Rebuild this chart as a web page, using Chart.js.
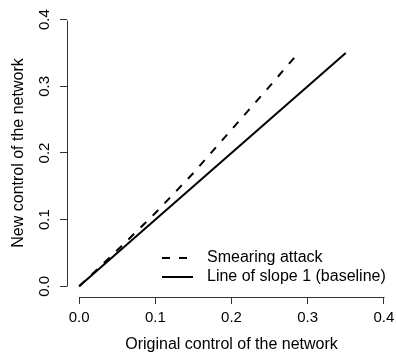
<!DOCTYPE html>
<html>
<head>
<meta charset="utf-8">
<script src="https://cdn.jsdelivr.net/npm/chart.js@4"></script>
<style>
  html, body { margin: 0; padding: 0; background: #fff; }
  #wrap { width: 396px; height: 352px; position: relative; }
</style>
</head>
<body>
<div id="wrap"><canvas id="c"></canvas></div>
<script>
// ---- data ----
const smearX = [0, 0.05, 0.10, 0.15, 0.20, 0.25, 0.29];
const smearY = [0, 0.054, 0.110, 0.170, 0.235, 0.300, 0.353];
const baseX = [0, 0.35];
const baseY = [0, 0.35];
const xTicks = [0, 0.1, 0.2, 0.3, 0.4];
const yTicks = [0, 0.1, 0.2, 0.3, 0.4];
const seriesLabels = ['Smearing attack', 'Line of slope 1 (baseline)'];
const xTitle = 'Original control of the network';
const yTitle = 'New control of the network';

const FONT = '"Liberation Sans", Arial, Helvetica, sans-serif';
Chart.defaults.font.family = FONT;
Chart.defaults.color = '#000';

const toPts = (xs, ys) => xs.map((x, i) => ({ x: x, y: ys[i] }));

// R-style axis lines spanning first..last tick
const rAxes = {
  id: 'rAxes',
  beforeDatasetsDraw(chart) {
    const { ctx, chartArea, scales } = chart;
    ctx.save();
    ctx.strokeStyle = '#333';
    ctx.lineWidth = 1;
    ctx.beginPath();
    const yb = Math.round(chartArea.bottom) + 0.5;
    ctx.moveTo(Math.round(scales.x.getPixelForValue(xTicks[0])) + 0.5, yb);
    ctx.lineTo(Math.round(scales.x.getPixelForValue(xTicks[xTicks.length - 1])) + 0.5, yb);
    const xl = Math.round(chartArea.left) + 0.5;
    ctx.moveTo(xl, Math.round(scales.y.getPixelForValue(yTicks[0])) + 0.5);
    ctx.lineTo(xl, Math.round(scales.y.getPixelForValue(yTicks[yTicks.length - 1])) + 0.5);
    ctx.stroke();
    ctx.restore();
  }
};

// legend inside plot area, bottom-right
const rLegend = {
  id: 'rLegend',
  afterDatasetsDraw(chart) {
    const ctx = chart.ctx;
    const L = { x: 162, y: 258, rowH: 19, lineLen: 31, textX: 207 };
    chart.data.datasets.forEach((ds, i) => {
      const y = L.y + i * L.rowH;
      ctx.save();
      ctx.strokeStyle = ds.borderColor;
      ctx.lineWidth = ds.borderWidth;
      ctx.setLineDash(ds.borderDash || []);
      ctx.beginPath();
      ctx.moveTo(L.x, y);
      ctx.lineTo(L.x + L.lineLen, y);
      ctx.stroke();
      ctx.restore();
      ctx.save();
      ctx.fillStyle = '#000';
      ctx.font = '16px ' + FONT;
      ctx.textBaseline = 'middle';
      ctx.textAlign = 'left';
      ctx.fillText(ds.label, L.textX, y);
      ctx.restore();
    });
  }
};

new Chart(document.getElementById('c'), {
  type: 'scatter',
  data: {
    datasets: [
      {
        label: seriesLabels[0],
        data: toPts(smearX, smearY),
        showLine: true,
        borderColor: '#000',
        borderWidth: 2,
        borderDash: [8, 9],
        pointRadius: 0,
        tension: 0,
        fill: false
      },
      {
        label: seriesLabels[1],
        data: toPts(baseX, baseY),
        showLine: true,
        borderColor: '#000',
        borderWidth: 2,
        pointRadius: 0,
        tension: 0,
        fill: false
      }
    ]
  },
  options: {
    responsive: true,
    maintainAspectRatio: false,
    animation: false,
    devicePixelRatio: 1,
    layout: { padding: { top: 9, right: 0, left: 0, bottom: 0 } },
    plugins: {
      legend: { display: false },
      tooltip: { enabled: false }
    },
    scales: {
      x: {
        type: 'linear',
        min: -0.016,
        max: 0.416,
        afterBuildTicks: s => { s.ticks = xTicks.map(v => ({ value: v })); },
        afterFit: s => { s.height = 55; s.paddingLeft = 0; s.paddingRight = 0; },
        border: { display: false },
        grid: { drawOnChartArea: false, drawTicks: true, tickLength: 7, color: '#333', lineWidth: 1 },
        ticks: {
          autoSkip: false, maxRotation: 0, minRotation: 0, padding: 5,
          color: '#000', font: { size: 15 },
          callback: v => Number(v).toFixed(1)
        },
        title: { display: true, text: xTitle, color: '#000', font: { size: 16 }, padding: { top: 0, bottom: -2 } }
      },
      y: {
        type: 'linear',
        min: -0.016,
        max: 0.416,
        afterBuildTicks: s => { s.ticks = yTicks.map(v => ({ value: v })); },
        afterFit: s => { s.width = 67; s.paddingTop = 0; s.paddingBottom = 0; },
        border: { display: false },
        grid: { drawOnChartArea: false, drawTicks: true, tickLength: 7, color: '#333', lineWidth: 1 },
        ticks: {
          autoSkip: false, minRotation: 90, maxRotation: 90, crossAlign: 'center', padding: 5,
          color: '#000', font: { size: 15 },
          callback: v => Number(v).toFixed(1)
        },
        title: { display: true, text: yTitle, color: '#000', font: { size: 16 }, padding: { top: 9, bottom: 0 } }
      }
    }
  },
  plugins: [rAxes, rLegend]
});
</script>
</body>
</html>
